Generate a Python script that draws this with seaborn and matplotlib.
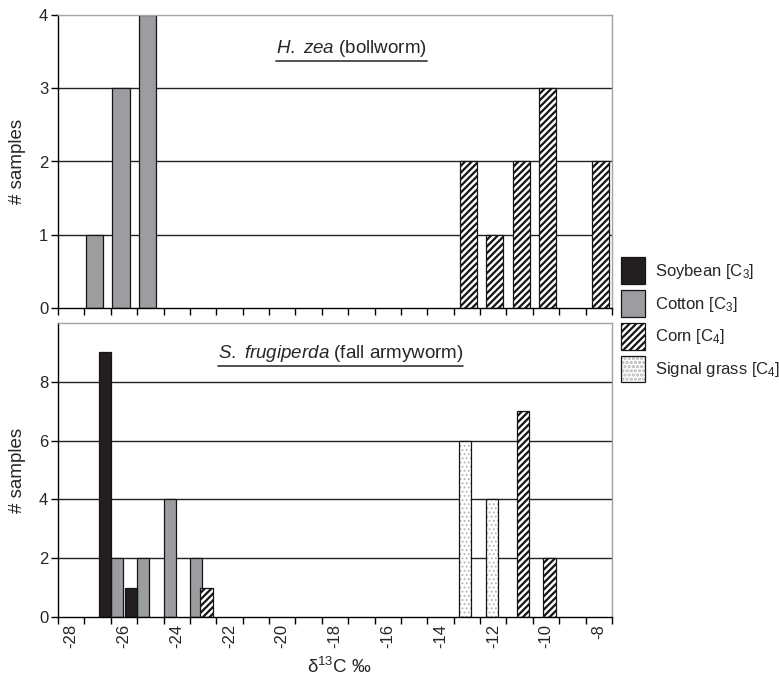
import numpy as np
import matplotlib
matplotlib.use("Agg")
import matplotlib.pyplot as plt
from matplotlib.patches import Patch
from matplotlib.lines import Line2D
import seaborn as sns

# ── Data: delta13C bins and sample counts ─────────────────────────────────────
TICK_LABELS = list(range(-28, -7, 2))

HZ_COTTON_X = [-27, -26, -25]
HZ_COTTON_N = [1, 3, 4]
HZ_CORN_X   = [-13, -12, -11, -10, -8]
HZ_CORN_N   = [2, 1, 2, 3, 2]

SF_SOY_X    = [-27, -26]
SF_SOY_N    = [9, 1]
SF_COTTON_X = [-26, -25, -24, -23]
SF_COTTON_N = [2, 2, 4, 2]
SF_CORN_X   = [-23, -11, -10]
SF_CORN_N   = [1, 7, 2]
SF_GRASS_X  = [-13, -12]
SF_GRASS_N  = [6, 4]

LEGEND_LABELS = ["Soybean [C$_3$]", "Cotton [C$_3$]",
                 "Corn [C$_4$]", "Signal grass [C$_4$]"]

# ── Style ─────────────────────────────────────────────────────────────────────
SOY, COTTON = "#231f20", "#9c9da1"
EDGE, FRAME, DOTS = "#151515", "#a3a3a3", "#b4b4b4"
CORN_HATCH, GRASS_HATCH = "/////", "...."

sns.set_theme(style="white")
plt.rcParams.update({
    "font.family": ["Liberation Sans", "DejaVu Sans"],
    "mathtext.fontset": "custom",
    "mathtext.rm": "Liberation Sans",
    "mathtext.it": "Liberation Sans:italic",
    "hatch.linewidth": 1.6,
    "axes.facecolor": "white",
})

fig = plt.figure(figsize=(7.79, 6.8), dpi=100)
ax1 = fig.add_axes([58/779, 1-308/680, 554/779, 293/680])
ax2 = fig.add_axes([58/779, 1-617/680, 554/779, 294/680])


def bars(ax, xs, ns, shift, width, kind):
    x = np.asarray(xs, dtype=float) + shift
    common = dict(x=x, y=ns, native_scale=True, orient="x", errorbar=None,
                  width=width, ax=ax)
    if kind == "soy":
        sns.barplot(**common, facecolor=SOY, edgecolor=EDGE, linewidth=0.9)
    elif kind == "cotton":
        sns.barplot(**common, facecolor=COTTON, edgecolor=EDGE, linewidth=0.9)
    elif kind == "corn":
        sns.barplot(**common, facecolor="white", edgecolor=EDGE,
                    linewidth=0.9, hatch=CORN_HATCH)
    else:
        n0 = len(ax.patches)
        sns.barplot(**common, facecolor="white", edgecolor=DOTS,
                    linewidth=0, hatch=GRASS_HATCH)
        for p in ax.patches[n0:]:
            if hasattr(p, "set_hatch_linewidth"):
                p.set_hatch_linewidth(0.8)
        sns.barplot(**common, facecolor="none", edgecolor=EDGE, linewidth=0.9)


# top panel: H. zea
bars(ax1, HZ_COTTON_X, HZ_COTTON_N, -0.11, 0.65, "cotton")
bars(ax1, HZ_CORN_X, HZ_CORN_N, 0.055, 0.65, "corn")

# bottom panel: S. frugiperda
bars(ax2, SF_COTTON_X, SF_COTTON_N, -0.27, 0.46, "cotton")
bars(ax2, SF_SOY_X, SF_SOY_N, 0.27, 0.46, "soy")
bars(ax2, SF_GRASS_X, SF_GRASS_N, -0.06, 0.46, "grass")
bars(ax2, SF_CORN_X, SF_CORN_N, 0.13, 0.46, "corn")

ax1.set_ylim(0, 4)
ax1.set_yticks([0, 1, 2, 3, 4])
ax2.set_ylim(0, 10)
ax2.set_yticks([0, 2, 4, 6, 8])

for ax in (ax1, ax2):
    ax.set_xlim(-28.5, -7.5)
    ax.set_xticks(TICK_LABELS)
    ax.set_xticks(np.arange(-28.5, -7.4, 1), minor=True)
    ax.tick_params(axis="x", which="major", length=0, pad=5, labelsize=12)
    ax.tick_params(axis="x", which="minor", length=5, width=1,
                   color="black", direction="out", bottom=True)
    ax.tick_params(axis="y", length=5, width=1, color="black",
                   direction="out", left=True, pad=2, labelsize=12)
    ax.set_xlabel("")
    ax.set_ylabel("")
    ax.set_axisbelow(True)
    ax.yaxis.grid(True, color="#222222", linewidth=1)
    ax.xaxis.grid(False)
    for side in ("left", "bottom"):
        ax.spines[side].set_color("black")
        ax.spines[side].set_linewidth(1)
    for side in ("top", "right"):
        ax.spines[side].set_color(FRAME)
        ax.spines[side].set_linewidth(1)
    ax.get_ygridlines()[0].set_visible(False)

ax1.get_ygridlines()[-1].set_visible(False)
ax1.set_xticklabels([])
ax2.set_xticklabels([str(v) for v in TICK_LABELS], rotation=90)

fig.text(17/779, 1-161/680, "# samples", rotation=90, ha="center",
         va="center", fontsize=13.5)
fig.text(17/779, 1-470/680, "# samples", rotation=90, ha="center",
         va="center", fontsize=13.5)
fig.text(339/779, 1-667/680, "δ$^{13}$C ‰", ha="center", va="center",
         fontsize=13.5)

t1 = ax1.text(0.529, 0.885, r"$\mathit{H.\ zea}$ (bollworm)",
              transform=ax1.transAxes, ha="center", va="center", fontsize=13.5)
t2 = ax2.text(0.51, 0.895, r"$\mathit{S.\ frugiperda}$ (fall armyworm)",
              transform=ax2.transAxes, ha="center", va="center", fontsize=13.5)

# legend
handles = [
    Patch(facecolor=SOY, edgecolor=EDGE, linewidth=0.9),
    Patch(facecolor=COTTON, edgecolor=EDGE, linewidth=0.9),
    Patch(facecolor="white", edgecolor=EDGE, linewidth=0.9, hatch=CORN_HATCH),
    (Patch(facecolor="white", edgecolor=DOTS, linewidth=0, hatch=GRASS_HATCH),
     Patch(facecolor="none", edgecolor=EDGE, linewidth=0.9)),
]
fig.legend(handles, LEGEND_LABELS, loc="upper left",
           bbox_to_anchor=(621/779, 1-257/680), frameon=False, fontsize=12,
           handlelength=1.45, handleheight=2.1, labelspacing=0.36,
           handletextpad=0.6, borderpad=0, borderaxespad=0)

# underline the panel titles
fig.canvas.draw()
renderer = fig.canvas.get_renderer()
inv = fig.transFigure.inverted()
for t in (t1, t2):
    bb = t.get_window_extent(renderer)
    (x0, y0), (x1, _) = inv.transform([(bb.x0, bb.y0 - 2), (bb.x1, bb.y1)])
    fig.add_artist(Line2D([x0, x1], [y0, y0], transform=fig.transFigure,
                          color="#333333", linewidth=1.2))

fig.savefig("out.png", dpi=100)
